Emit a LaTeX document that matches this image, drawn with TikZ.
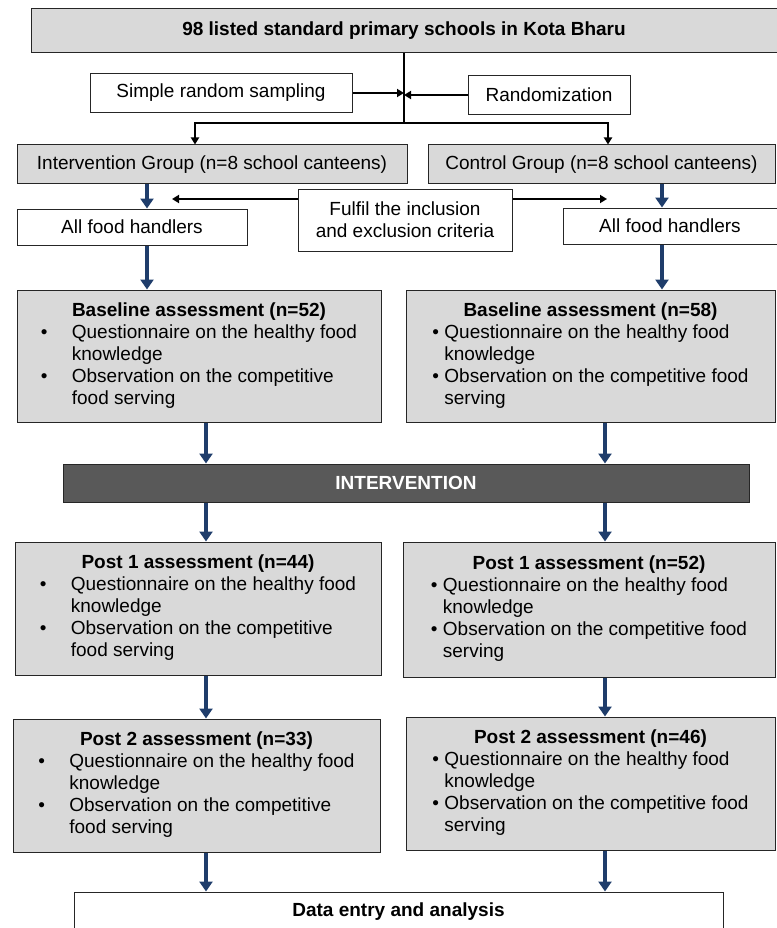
\documentclass[tikz,border=0pt]{standalone}
\usepackage{fontspec}
\setmainfont{Liberation Sans}
\usetikzlibrary{arrows.meta}

\definecolor{boxgray}{RGB}{217,217,217}
\definecolor{bargray}{RGB}{89,89,89}
\definecolor{arrowblue}{RGB}{31,61,107}

\tikzset{
  box/.style={draw=black!85, line width=1pt, inner sep=0pt, font=\fontsize{19}{22}\selectfont},
  graybox/.style={box, fill=boxgray},
  blk/.style={line width=1.8pt, -{Triangle[length=7pt,width=8pt]}},
  blu/.style={draw=arrowblue, line width=4pt, -{Triangle[length=10pt,width=13pt]}, fill=arrowblue},
}

\begin{document}
\begin{tikzpicture}[x=1pt,y=-1pt]
   \useasboundingbox (0,0) rectangle (776,928);
   % boxes
   \node[graybox, minimum width=746pt, minimum height=44pt] (schools) at (404,31) {\bfseries 98 listed standard primary schools in Kota Bharu};
   \node[box, minimum width=262pt, minimum height=39pt] (srs) at (221,93) {Simple random sampling};
   \node[box, minimum width=162pt, minimum height=39pt] (rand) at (549,95) {Randomization};
   \node[graybox, minimum width=390pt, minimum height=39pt] (ig) at (212,164.5) {Intervention Group (n=8 school canteens)};
   \node[graybox, minimum width=347pt, minimum height=39pt] (cg) at (601.5,164.5) {Control Group (n=8 school canteens)};
   \node[box, minimum width=230pt, minimum height=36pt] (afhl) at (132,227) {All food handlers};
   \node[box, minimum width=214pt, minimum height=36pt] (afhr) at (670,226) {All food handlers};
   \node[box, minimum width=214pt, minimum height=62pt, align=center] (crit) at (405,220) {Fulfil the inclusion\\and exclusion criteria};
   \node[graybox, minimum width=364pt, minimum height=132pt] (basel) at (199,356) {\begin{tabular}{@{}p{31pt}@{}l@{}}
      \multicolumn{2}{c}{\bfseries Baseline assessment (n=52)}\\
      \textbullet & Questionnaire on the healthy food\\
      & knowledge\\
      \textbullet & Observation on the competitive\\
      & food serving
   \end{tabular}};
   \node[graybox, minimum width=369pt, minimum height=132pt] (baser) at (590.5,356) {\begin{tabular}{@{}p{12pt}@{}l@{}}
      \multicolumn{2}{c}{\bfseries Baseline assessment (n=58)}\\
      \textbullet & Questionnaire on the healthy food\\
      & knowledge\\
      \textbullet & Observation on the competitive food\\
      & serving
   \end{tabular}};
   \node[box, fill=bargray, text=white, minimum width=686pt, minimum height=38pt] (interv) at (406,483) {\bfseries INTERVENTION};
   \node[graybox, minimum width=366pt, minimum height=133pt] (postal) at (198,608.5) {\begin{tabular}{@{}p{31pt}@{}l@{}}
      \multicolumn{2}{c}{\bfseries Post 1 assessment (n=44)}\\
      \textbullet & Questionnaire on the healthy food\\
      & knowledge\\
      \textbullet & Observation on the competitive\\
      & food serving
   \end{tabular}};
   \node[graybox, minimum width=372pt, minimum height=135pt] (postar) at (589,609.5) {\begin{tabular}{@{}p{12pt}@{}l@{}}
      \multicolumn{2}{c}{\bfseries Post 1 assessment (n=52)}\\
      \textbullet & Questionnaire on the healthy food\\
      & knowledge\\
      \textbullet & Observation on the competitive food\\
      & serving
   \end{tabular}};
   \node[graybox, minimum width=367pt, minimum height=133pt] (postbl) at (196.5,785.5) {\begin{tabular}{@{}p{31pt}@{}l@{}}
      \multicolumn{2}{c}{\bfseries Post 2 assessment (n=33)}\\
      \textbullet & Questionnaire on the healthy food\\
      & knowledge\\
      \textbullet & Observation on the competitive\\
      & food serving
   \end{tabular}};
   \node[graybox, minimum width=369pt, minimum height=133pt] (postbr) at (590.5,783.5) {\begin{tabular}{@{}p{12pt}@{}l@{}}
      \multicolumn{2}{c}{\bfseries Post 2 assessment (n=46)}\\
      \textbullet & Questionnaire on the healthy food\\
      & knowledge\\
      \textbullet & Observation on the competitive food\\
      & serving
   \end{tabular}};
   \node[box, minimum width=649pt, minimum height=40pt] (data) at (398.5,912) {\bfseries Data entry and analysis};
   % arrow columns
   \coordinate (split) at (404,123);
   \coordinate (brl) at (195,0);
   \coordinate (brr) at (608,0);
   \coordinate (colA) at (147,0);
   \coordinate (colB) at (662,0);
   \coordinate (colC) at (206,0);
   \coordinate (colD) at (605,0);
   \coordinate (critl) at (172,199);
   \coordinate (critr) at (607,199);
   % black arrows
   \draw[line width=1.8pt] (schools.south -| split) -- (split);
   \draw[blk] (split) -| (ig.north -| brl);
   \draw[blk] (split) -| (cg.north -| brr);
   \draw[blk] (srs.east) -- (srs.east -| split);
   \draw[blk] (rand.west) -- (rand.west -| split);
   \draw[blk] (crit.west |- critl) -- (critl);
   \draw[blk] (crit.east |- critr) -- (critr);
   % blue arrows
   \draw[blu] (ig.south -| colA) -- (afhl.north -| colA);
   \draw[blu] (cg.south -| colB) -- (afhr.north -| colB);
   \draw[blu] (afhl.south -| colA) -- (basel.north -| colA);
   \draw[blu] (afhr.south -| colB) -- (baser.north -| colB);
   \draw[blu] (basel.south -| colC) -- (interv.north -| colC);
   \draw[blu] (baser.south -| colD) -- (interv.north -| colD);
   \draw[blu] (interv.south -| colC) -- (postal.north -| colC);
   \draw[blu] (interv.south -| colD) -- (postar.north -| colD);
   \draw[blu] (postal.south -| colC) -- (postbl.north -| colC);
   \draw[blu] (postar.south -| colD) -- (postbr.north -| colD);
   \draw[blu] (postbl.south -| colC) -- (data.north -| colC);
   \draw[blu] (postbr.south -| colD) -- (data.north -| colD);
\end{tikzpicture}
\end{document}
